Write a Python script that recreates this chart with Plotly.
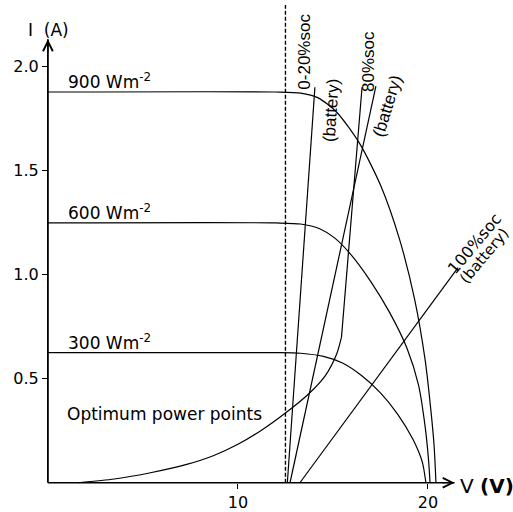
import plotly.graph_objects as go

# ---- data (V in volts, I in amps) ----
v_900 = [0, 12.0, 13.3, 14.2, 15.2, 16.4, 17.5, 18.5, 19.3, 19.85, 20.15, 20.32, 20.42]
i_900 = [1.877, 1.877, 1.872, 1.85, 1.78, 1.63, 1.43, 1.17, 0.88, 0.59, 0.35, 0.18, 0.0]

v_600 = [0, 12.0, 13.3, 14.3, 15.1, 16.0, 17.0, 18.0, 18.9, 19.5, 19.85, 20.02, 20.11]
i_600 = [1.248, 1.248, 1.243, 1.22, 1.175, 1.09, 0.965, 0.815, 0.645, 0.47, 0.27, 0.12, 0.0]

v_300 = [0, 12.0, 13.3, 14.5, 15.5, 16.5, 17.5, 18.4, 19.2, 19.7, 19.89]
i_300 = [0.625, 0.625, 0.622, 0.607, 0.575, 0.515, 0.432, 0.33, 0.21, 0.10, 0.0]

v_opt = [1.6, 3.5, 5.4, 7.3, 8.7, 10.0, 11.2, 12.5, 13.7, 14.6, 15.2, 15.45]
i_opt = [0.0, 0.018, 0.048, 0.088, 0.13, 0.185, 0.25, 0.335, 0.425, 0.515, 0.62, 0.70]
v_opt_top = [15.45, 16.53]
i_opt_top = [0.70, 1.90]

v_soc20 = [12.60, 14.05]
i_soc20 = [0.0, 1.90]

v_soc80 = [12.74, 17.26]
i_soc80 = [0.0, 1.905]

v_soc100 = [13.26, 21.58]
i_soc100 = [0.0, 1.033]

v_limit = [12.5, 12.5]
i_limit = [0.0, 2.295]

irr_labels = ["900 Wm<sup>-2</sup>", "600 Wm<sup>-2</sup>", "300 Wm<sup>-2</sup>"]
irr_levels = [1.877, 1.248, 0.625]

x_ticks = [10, 20]
y_ticks = [0.5, 1.0, 1.5, 2.0]
y_ticktext = ["0.5", "1.0", "1.5", "2.0"]

# axis arrow tips
x_axis_end = 21.4
y_axis_end = 2.13

# ---- figure ----
fig = go.Figure()
line = dict(color="black", width=1.2)

for v, i in [(v_900, i_900), (v_600, i_600), (v_300, i_300)]:
    fig.add_trace(go.Scatter(x=v, y=i, mode="lines",
                             line=dict(color="black", width=1.2, shape="spline", smoothing=0.7),
                             hoverinfo="skip", showlegend=False))
fig.add_trace(go.Scatter(x=v_opt, y=i_opt, mode="lines",
                         line=dict(color="black", width=1.2, shape="spline", smoothing=0.7),
                         hoverinfo="skip", showlegend=False))
fig.add_trace(go.Scatter(x=v_opt_top, y=i_opt_top, mode="lines", line=line,
                         hoverinfo="skip", showlegend=False))
for v, i in [(v_soc20, i_soc20), (v_soc80, i_soc80), (v_soc100, i_soc100)]:
    fig.add_trace(go.Scatter(x=v, y=i, mode="lines", line=line, hoverinfo="skip", showlegend=False))
fig.add_trace(go.Scatter(x=v_limit, y=i_limit, mode="lines",
                         line=dict(color="black", width=1.4, dash="4px,2px"),
                         hoverinfo="skip", showlegend=False))

# axis lines
fig.add_trace(go.Scatter(x=[0, 0], y=[0, y_axis_end], mode="lines",
                         line=dict(color="black", width=1.8), hoverinfo="skip", showlegend=False))
fig.add_trace(go.Scatter(x=[0, x_axis_end], y=[0, 0], mode="lines",
                         line=dict(color="black", width=1.6), hoverinfo="skip", showlegend=False))

ann = []
# arrow heads (open chevrons) at the axis ends
ann.append(dict(x=0, y=y_axis_end, ax=0, ay=14, xref="x", yref="y", text="",
                showarrow=True, arrowhead=5, arrowsize=1.6, arrowwidth=1.2, arrowcolor="black"))
ann.append(dict(x=x_axis_end, y=0, ax=-14, ay=0, xref="x", yref="y", text="",
                showarrow=True, arrowhead=5, arrowsize=1.6, arrowwidth=1.2, arrowcolor="black"))

font_h = dict(family="DejaVu Sans", size=17, color="black")
font_v = dict(family="Liberation Sans", size=17, color="black")

for lab, lev in zip(irr_labels, irr_levels):
    ann.append(dict(x=0.95, y=lev, xref="x", yref="y", text=lab, showarrow=False,
                    xanchor="left", yanchor="bottom", font=font_h, yshift=-2))

ann.append(dict(x=0.9, y=0.328, xref="x", yref="y", text="Optimum power points", showarrow=False,
                xanchor="left", yanchor="middle", font=font_h))
ann.append(dict(x=13.53, y=2.071, xref="x", yref="y", text="0-20%soc", showarrow=False,
                textangle=-90, font=font_v))
ann.append(dict(x=14.89, y=1.79, xref="x", yref="y", text="(battery)", showarrow=False,
                textangle=-86, font=font_v))
ann.append(dict(x=16.87, y=2.024, xref="x", yref="y", text="80%soc", showarrow=False,
                textangle=-90, font=font_v))
ann.append(dict(x=17.89, y=1.81, xref="x", yref="y", text="(battery)", showarrow=False,
                textangle=-73, font=font_v))
ann.append(dict(x=22.45, y=1.15, xref="x", yref="y", text="100%soc", showarrow=False,
                textangle=-50, font=dict(family="DejaVu Sans", size=16, color="black")))
ann.append(dict(x=22.95, y=1.09, xref="x", yref="y", text="(battery)", showarrow=False,
                textangle=-50, font=dict(family="DejaVu Sans", size=15, color="black")))
ann.append(dict(x=0.05, y=2.176, xref="x", yref="y", text="I\u00a0 (A)", showarrow=False,
                xanchor="center", yanchor="middle", font=font_h))
ann.append(dict(x=21.58, y=-0.014, xref="x", yref="y", text="V <b>(V)</b>", showarrow=False,
                xanchor="left", yanchor="middle", font=dict(family="DejaVu Sans", size=20, color="black")))

x_lo, x_hi = -0.1, 24.0
y_lo, y_hi = -0.03, 2.319
px_x, px_y = 19.0, 210.0
left = 48 - (0 - x_lo) * px_x
right = 513 - left - (x_hi - x_lo) * px_x
bottom = 512 - (y_hi - y_lo) * px_y

fig.update_layout(
    width=513, height=512,
    margin=dict(l=left, r=right, t=0, b=bottom, pad=0),
    paper_bgcolor="white", plot_bgcolor="white",
    annotations=ann,
    xaxis=dict(range=[x_lo, x_hi], showgrid=False, zeroline=False, showline=False,
               anchor="free", position=(0 - y_lo) / (y_hi - y_lo),
               tickmode="array", tickvals=x_ticks, ticks="outside", ticklen=5, tickwidth=1.4,
               tickcolor="black", tickfont=dict(family="DejaVu Sans", size=16, color="black")),
    yaxis=dict(range=[y_lo, y_hi], showgrid=False, zeroline=False, showline=False,
               anchor="free", position=(0 - x_lo) / (x_hi - x_lo),
               tickmode="array", tickvals=y_ticks, ticktext=y_ticktext, ticks="outside",
               ticklen=6, tickwidth=1.4, tickcolor="black",
               tickfont=dict(family="DejaVu Sans", size=16, color="black")),
)

fig.write_html("out.html")
